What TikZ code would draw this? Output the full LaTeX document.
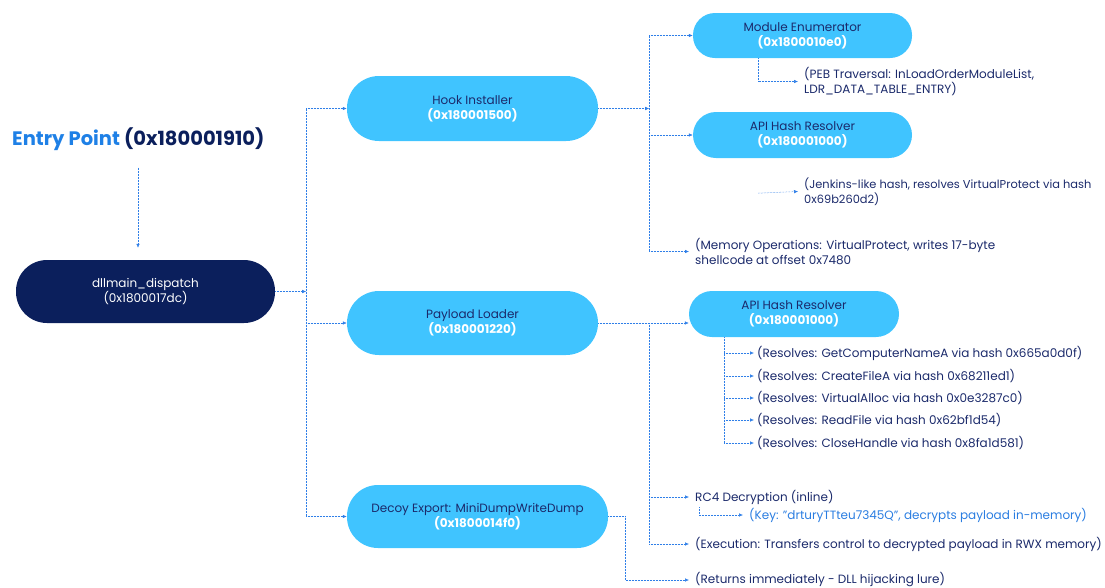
\documentclass[tikz,border=0pt]{standalone}
\usepackage{fontspec}
\setmainfont{Poppins}
\usetikzlibrary{arrows.meta}
\definecolor{navy}{HTML}{0B1F5C}
\definecolor{txtnavy}{HTML}{1B2A6B}
\definecolor{pill}{HTML}{40C4FF}
\definecolor{link}{HTML}{2F7FE8}
\definecolor{entry}{HTML}{1E80E6}
\definecolor{keyblue}{HTML}{2A7DE1}
\begin{document}
\begin{tikzpicture}[x=1pt,y=-1pt,
  conn/.style={draw=link, line width=0.5pt, densely dotted},
  arr/.style={conn, -{Latex[length=4pt,width=3.5pt]}},
  pillbox/.style={fill=pill, draw=none, align=center, text=txtnavy, font=\fontsize{12}{15}\selectfont},
  navybox/.style={fill=navy, draw=none, align=center, text=white, font=\fontsize{12}{15}\selectfont},
  note/.style={anchor=west, align=left, text=txtnavy, inner xsep=6pt, inner ysep=1pt, font=\fontsize{12}{15}\selectfont}
]
\useasboundingbox (0,0) rectangle (1105,587);

% title
\node[anchor=west, inner sep=0pt, font=\fontsize{19.5}{22}\selectfont\bfseries] (entry) at (12,139)
  {\textcolor{entry}{Entry Point} \textcolor{navy}{(0x180001910)}};

% main nodes
\node[navybox, minimum width=259pt, minimum height=63pt, rounded corners=31pt] (dll) at (145.5,291.5)
  {dllmain\_dispatch\\(0x1800017dc)};
\node[pillbox, minimum width=251pt, minimum height=65pt, rounded corners=32pt] (hook) at (472.5,108.5)
  {Hook Installer\\\textcolor{white}{\bfseries(0x180001500)}};
\node[pillbox, minimum width=251pt, minimum height=64pt, rounded corners=32pt] (payload) at (472.5,323)
  {Payload Loader\\\textcolor{white}{\bfseries(0x180001220)}};
\node[pillbox, minimum width=261pt, minimum height=63pt, rounded corners=31pt] (decoy) at (477.5,516.5)
  {Decoy Export: MiniDumpWriteDump\\\textcolor{white}{\bfseries(0x1800014f0)}};

\node[pillbox, minimum width=219pt, minimum height=45pt, rounded corners=22pt] (module) at (802.5,35.5)
  {Module Enumerator\\\textcolor{white}{\bfseries(0x1800010e0)}};
\node[pillbox, minimum width=219pt, minimum height=46pt, rounded corners=23pt] (api1) at (802.5,135)
  {API Hash Resolver\\\textcolor{white}{\bfseries(0x180001000)}};
\node[pillbox, minimum width=210pt, minimum height=46pt, rounded corners=23pt] (api2) at (794,314)
  {API Hash Resolver\\\textcolor{white}{\bfseries(0x180001000)}};

% notes
\node[note] (peb) at (798,81.5) {(PEB Traversal: InLoadOrderModuleList,\\LDR\_DATA\_TABLE\_ENTRY)};
\node[note, font=\fontsize{11.4}{15}\selectfont] (jenk) at (798,191.5) {(Jenkins-like hash, resolves VirtualProtect via hash\\0x69b260d2)};
\node[note] (mem) at (689,251.5) {(Memory Operations: VirtualProtect, writes 17-byte\\shellcode at offset 0x7480};

\node[note, inner xsep=3pt] (r1) at (754,353) {(Resolves: GetComputerNameA via hash 0x665a0d0f)};
\node[note, inner xsep=3pt] (r2) at (754,376) {(Resolves: CreateFileA via hash 0x68211ed1)};
\node[note, inner xsep=3pt] (r3) at (754,398) {(Resolves: VirtualAlloc via hash 0x0e3287c0)};
\node[note, inner xsep=3pt] (r4) at (754,420) {(Resolves: ReadFile via hash 0x62bf1d54)};
\node[note, inner xsep=3pt] (r5) at (754,443) {(Resolves: CloseHandle via hash 0x8fa1d581)};

\node[note] (rc4) at (689,497) {RC4 Decryption (inline)};
\node[note, text=keyblue] (key) at (743,515) {(Key: "drturyTTteu7345Q", decrypts payload in-memory)};
\node[note] (exec) at (689,544) {(Execution: Transfers control to decrypted payload in RWX memory)};
\node[note] (ret) at (689,580) {(Returns immediately - DLL hijacking lure)};

% trunk coordinates
\coordinate (T0) at ([xshift=31pt]dll.east);
\coordinate (T1) at ([xshift=51pt]hook.east);
\coordinate (T2) at ([xshift=51pt]payload.east);
\coordinate (V2) at ([xshift=-70pt]api2.south);
\coordinate (EA) at ([xshift=-7.5pt,yshift=12pt]dll.north);

% connectors
\draw[arr] ([yshift=-17pt]entry.south -| EA) -- (EA);
\draw[arr] (dll.east) -- (T0);
\draw[conn] (T0 |- hook.west) -- (T0 |- decoy.west);
\draw[arr] (T0 |- hook.west) -- (hook.west);
\draw[arr] (T0 |- payload.west) -- (payload.west);
\draw[arr] (T0 |- decoy.west) -- (decoy.west);

\draw[arr] (hook.east) -- (T1);
\draw[conn] (T1 |- module.west) -- (T1 |- mem.west);
\draw[arr] (T1 |- module.west) -- (module.west);
\draw[arr] (T1 |- api1.west) -- (api1.west);
\draw[arr] (T1 |- mem.west) -- (mem.west);
\draw[arr] ([xshift=-44.5pt]module.south) |- (peb.west);
\draw[arr] ([xshift=-44.5pt,yshift=-35pt]api1.south) -- (jenk.west);

\draw[arr] (payload.east) -- (api2.west |- payload.east);
\draw[conn] (T2) -- (T2 |- exec.west);
\draw[arr] (T2 |- rc4.west) -- (rc4.west);
\draw[arr] ([xshift=10pt,yshift=-2pt]rc4.south west) |- (key.west);
\draw[arr] (T2 |- exec.west) -- (exec.west);

\draw[conn] (V2) -- (V2 |- r5.west);
\foreach \r in {r1,r2,r3,r4,r5} \draw[arr] (V2 |- \r.west) -- (\r.west);

\draw[arr] (decoy.east) -- ++(17,0) |- (ret.west);
\end{tikzpicture}
\end{document}
